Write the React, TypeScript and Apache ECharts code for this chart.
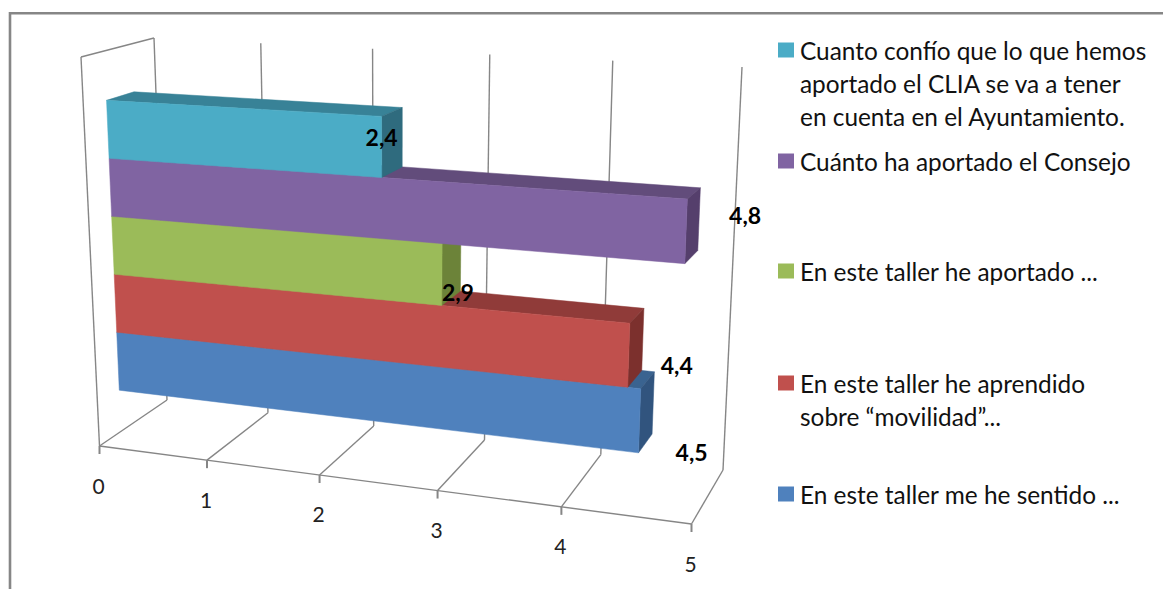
import React, { useEffect, useRef } from "react";
import * as echarts from "echarts";

// Data: listed bottom row first (ECharts category axes run upwards)
const ROW_KEYS = ["sentido", "aprendido", "aportado", "consejo", "confio"];
const VALUES = [4.5, 4.4, 2.9, 4.8, 2.4];
const VALUE_LABELS = ["4,5", "4,4", "2,9", "4,8", "2,4"];
const TICKS = [0, 1, 2, 3, 4, 5];
const TICK_LABELS = ["0", "1", "2", "3", "4", "5"];
// Legend: top to bottom
const LEGEND_NAMES = [
  "Cuanto confío que lo que hemos\naportado el CLIA se va a tener\nen cuenta en el Ayuntamiento.",
  "Cuánto ha aportado el Consejo",
  "En este taller he aportado ...",
  "En este taller he aprendido\nsobre “movilidad”...",
  "En este taller me he sentido ...",
];

// Style: face colours per row
const FRONT = ["#4F81BD", "#C0504D", "#9BBB59", "#8064A2", "#4BACC6"];
const TOP = ["#3A6390", "#903B39", "#75903F", "#624C7B", "#388297"];
const SIDE = ["#31547E", "#7C302D", "#6C8339", "#553F6C", "#2F6B7E"];
const LEGEND_COLORS = [FRONT[4], FRONT[3], FRONT[2], FRONT[1], FRONT[0]];
const LEGEND_Y = [50, 161, 271, 383, 494];
const LABEL_OFFSET = [[0, -10], [0, 0], [0, 0], [0, 0], [0, 0]];
LABEL_OFFSET[0] = [52, 31];
LABEL_OFFSET[1] = [48, 10];
LABEL_OFFSET[2] = [16, 17];
LABEL_OFFSET[3] = [59, -16];
LABEL_OFFSET[4] = [0, -10];

// Perspective box of the 3D chart: [value 0|max][depth front|back][floor|top]
const BOX = {
  fl0: [99.5, 446], fl1: [691.5, 524], bl0: [167, 400], bl1: [723, 470],
  ft0: [81, 57], ft1: [709, 87], bt0: [154, 38], bt1: [742, 67],
};
const PERSP = -0.1125;
const DEPTH_FRONT = 0.32;
const DEPTH_BACK = 0.7;
const Z_LOW = 0.108;
const Z_HIGH = 0.87;
const FONT = "Lato, 'Noto Sans', sans-serif";
const LINE = "#868686";

const mix = (a: number[], b: number[], t: number) => [a[0] + (b[0] - a[0]) * t, a[1] + (b[1] - a[1]) * t];

// u: 0..1 along the value axis, d: 0..1 depth, z: 0..1 height
function project(u: number, d: number, z: number) {
  const s = (u * (1 + PERSP)) / (1 + PERSP * u);
  const floor = mix(mix(BOX.fl0, BOX.fl1, s), mix(BOX.bl0, BOX.bl1, s), d);
  const top = mix(mix(BOX.ft0, BOX.ft1, s), mix(BOX.bt0, BOX.bt1, s), d);
  return mix(floor, top, z);
}

function renderBar(params: any, api: any) {
  const cs = params.coordSys;
  const row = params.dataIndex;
  const end = api.coord([api.value(0), api.value(1)]);
  const start = api.coord([0, api.value(1)]);
  const band = api.size([0, 1])[1];
  const uOf = (px: number) => (px - cs.x) / cs.width;
  const zOf = (py: number) => Z_LOW + ((cs.y + cs.height - py) / cs.height) * (Z_HIGH - Z_LOW);
  const u0 = uOf(start[0]);
  const u1 = uOf(end[0]);
  const z0 = zOf(end[1] + band / 2);
  const z1 = zOf(end[1] - band / 2);
  const f = DEPTH_FRONT;
  const b = DEPTH_BACK;
  const poly = (points: number[][], fill: string) => ({
    type: "polygon",
    shape: { points },
    style: { fill, stroke: fill, lineWidth: 0.5 },
  });
  const mid = mix(project(u1, f, z0), project(u1, f, z1), 0.5);
  const off = LABEL_OFFSET[row];
  return {
    type: "group",
    children: [
      poly([project(u0, f, z1), project(u0, b, z1), project(u1, b, z1), project(u1, f, z1)], TOP[row]),
      poly([project(u1, f, z1), project(u1, b, z1), project(u1, b, z0), project(u1, f, z0)], SIDE[row]),
      poly([project(u0, f, z0), project(u0, f, z1), project(u1, f, z1), project(u1, f, z0)], FRONT[row]),
      {
        type: "text",
        z2: 10,
        style: {
          text: VALUE_LABELS[row],
          x: mid[0] + off[0],
          y: mid[1] + off[1],
          align: "center",
          verticalAlign: "middle",
          font: `bold 23px ${FONT}`,
          fill: "#000",
        },
      },
    ],
  };
}

function renderAxis(params: any, api: any) {
  const cs = params.coordSys;
  const i = params.dataIndex;
  const pt = api.coord([api.value(0), 0]);
  const u = (pt[0] - cs.x) / cs.width;
  const seg = (a: number[], b: number[], w = 1.4) => ({
    type: "line",
    shape: { x1: a[0], y1: a[1], x2: b[0], y2: b[1] },
    style: { stroke: LINE, lineWidth: w },
  });
  const front = project(u, 0, 0);
  const back = project(u, 1, 0);
  const top = project(u, 1, 1);
  const children: any[] = [
    seg(front, back),
    seg(back, top),
    seg(front, [front[0], front[1] + 8], 2),
    {
      type: "text",
      style: {
        text: TICK_LABELS[i],
        x: front[0] - 1,
        y: front[1] + 39,
        align: "center",
        verticalAlign: "middle",
        font: `21px ${FONT}`,
        fill: "#222",
      },
    },
  ];
  if (i === 0) {
    children.push(seg(project(0, 0, 0), project(0, 0, 1)), seg(project(0, 0, 1), project(0, 1, 1)));
    children.push(seg(project(0, 0, 0), project(1, 0, 0)));
  }
  return { type: "group", children };
}

export default function App() {
  const ref = useRef<HTMLDivElement>(null);
  useEffect(() => {
    const chart = echarts.init(ref.current!, undefined, { renderer: "svg" });
    const legendGraphics: any[] = [];
    LEGEND_NAMES.forEach((name, i) => {
      legendGraphics.push({
        type: "rect",
        shape: { x: 778, y: LEGEND_Y[i] - 7.5, width: 16, height: 15 },
        style: { fill: LEGEND_COLORS[i] },
      });
      legendGraphics.push({
        type: "text",
        style: {
          text: name,
          x: 800,
          y: LEGEND_Y[i] - 16.5,
          font: `24.4px ${FONT}`,
          lineHeight: 33,
          fill: "#111",
          verticalAlign: "top",
        },
      });
    });
    chart.setOption({
      animation: false,
      backgroundColor: "#fff",
      grid: { left: 100, top: 60, width: 600, height: 400 },
      xAxis: { type: "value", min: 0, max: 5, interval: 1, show: false },
      yAxis: { type: "category", data: ROW_KEYS, show: false },
      graphic: [
        {
          type: "polyline",
          shape: { points: [[10, 589], [10, 13.3], [1163, 13.3]] },
          style: { stroke: LINE, lineWidth: 2.6, fill: "none" },
        },
        ...legendGraphics,
      ],
      series: [
        {
          type: "custom",
          name: "axis",
          silent: true,
          renderItem: renderAxis,
          data: TICKS.map((t) => [t, 0]),
          z: 1,
        },
        {
          type: "custom",
          name: "bars",
          silent: true,
          renderItem: renderBar,
          data: VALUES.map((v, i) => [v, i]),
          encode: { x: 0, y: 1 },
          z: 2,
        },
      ],
    });
    return () => chart.dispose();
  }, []);
  return <div ref={ref} style={{ position: "absolute", left: 0, top: 0, width: 1163, height: 589 }} />;
}
